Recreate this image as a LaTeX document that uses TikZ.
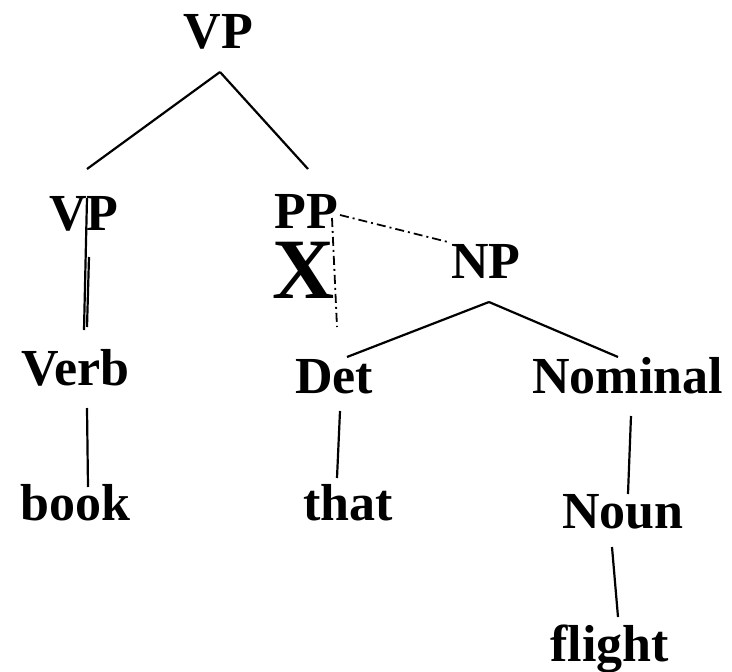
\documentclass[tikz,border=0pt]{standalone}
\usepackage{fontspec}
\setmainfont{Liberation Serif}
\usepackage{tikz}
\usetikzlibrary{calc}

\begin{document}
\begin{tikzpicture}[
                x=1pt, y=-1pt,
                every node/.style={font=\bfseries\fontsize{52}{60}\selectfont, inner sep=0pt, outer sep=0pt, anchor=base},
                cross/.style={font=\bfseries\fontsize{86}{90}\selectfont},
                edge/.style={line width=2.2pt},
                gone/.style={line width=1.8pt, dash pattern=on 9pt off 4pt on 2pt off 4pt}
            ]
            \useasboundingbox (0,0) rectangle (732,672);
            % Nodes
            \node (vp) at (218.5,48) {VP};
            \node (vpl) at (84,230) {VP};
            \node (pp) at (306.5,228) {PP};
            \node[cross] (x) at (304,298) {X};
            \node (np) at (486,278) {NP};
            \node (verb) at (75.5,385) {Verb};
            \node (det) at (334,393) {Det};
            \node (nominal) at (627.5,393) {Nominal};
            \node (book) at (75.5,520) {book};
            \node (that) at (348,520) {that};
            \node (noun) at (623,528) {Noun};
            \node (flight) at (609.5,661) {flight};
            % Lines
            \draw[edge] ([shift={(1.5,24)}]vp.base) -- ([shift={(3,-61)}]vpl.base);
            \draw[edge] ([shift={(1.5,24)}]vp.base) -- ([shift={(1.5,-59)}]pp.base);
            \draw[edge] ([shift={(3,-32)}]vpl.base) -- ([shift={(8.5,-55)}]verb.base);
            \draw[edge] ([shift={(5,27)}]vpl.base) -- ([shift={(11.5,-58)}]verb.base);
            \draw[edge] ([shift={(11.5,23)}]verb.base) -- ([shift={(12.5,-33)}]book.base);
            \draw[edge] ([shift={(3,24)}]np.base) -- ([shift={(13,-36)}]det.base);
            \draw[edge] ([shift={(3,24)}]np.base) -- ([shift={(-9.5,-36)}]nominal.base);
            \draw[edge] ([shift={(6,18)}]det.base) -- ([shift={(-11,-42)}]that.base);
            \draw[edge] ([shift={(3.5,23)}]nominal.base) -- ([shift={(5,-34)}]noun.base);
            \draw[edge] ([shift={(-11,19)}]noun.base) -- ([shift={(8.5,-44)}]flight.base);
            % Broken attachment
            \draw[gone] ([shift={(33.5,-13)}]pp.base) -- ([shift={(-38,-36)}]np.base);
            \draw[gone] ([shift={(25.5,-10)}]pp.base) -- ([shift={(3,-66)}]det.base);
\end{tikzpicture}
\end{document}
